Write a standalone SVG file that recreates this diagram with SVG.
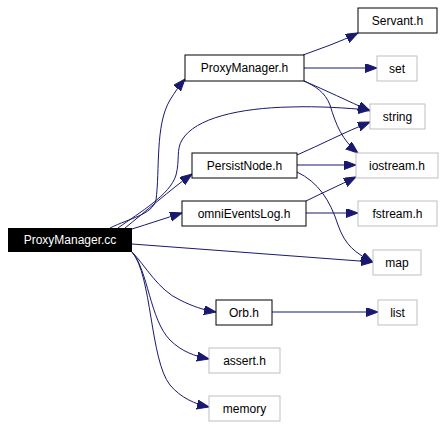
<svg xmlns="http://www.w3.org/2000/svg" width="447" height="427" viewBox="0 0 447 427">
<style>
text{font-family:"Liberation Sans",Arial,sans-serif;font-size:12px;text-anchor:middle;fill:#000}
.n rect{fill:#fff;stroke:#000;stroke-width:1}
.g rect{fill:#fff;stroke:#bfbfbf;stroke-width:1}
#edges path{fill:none;stroke:#191970;stroke-width:1;marker-end:url(#ah)}
</style>
<defs>
<marker id="ah" markerUnits="userSpaceOnUse" markerWidth="13" markerHeight="10" refX="12" refY="4.5" orient="auto">
<path d="M0,0 L12,4.5 L0,9 z" fill="#191970" stroke="#191970"/>
</marker>
</defs>
<rect width="447" height="427" fill="#fff"/>
<g id="edges">
<path d="M110,228 C130,218 152,215 156,200 C160,170 155,125 170,100 C175,92 179,86 185,79"/>
<path d="M118,228 C140,212 170,195 176,175 C180,160 176,150 182,140 C195,118 240,108 290,107 C320,106 345,108 370,110"/>
<path d="M125,228 C145,212 170,190 192,174"/>
<path d="M132,229 C148,224 166,218 182,213"/>
<path d="M132,244 L373,262"/>
<path d="M132,252 C145,265 158,290 180,300 C192,306 203,310 216,312"/>
<path d="M132,252 C148,270 150,320 170,340 C182,352 195,356 209,359"/>
<path d="M132,252 C152,275 150,360 170,385 C181,398 195,404 209,407"/>
<path d="M303,55 C322,48 340,42 358,33"/>
<path d="M304,68 L377,68"/>
<path d="M304,81 C325,90 348,101 370,111"/>
<path d="M304,81 C315,86 325,92 330,105 C336,125 342,140 358,153"/>
<path d="M297,155 C320,145 345,132 370,122"/>
<path d="M297,165 L356,165"/>
<path d="M297,172 C318,182 330,200 338,225 C345,245 355,253 373,262"/>
<path d="M306,201 C322,193 340,185 356,177"/>
<path d="M306,213 L358,213"/>
<path d="M272,312 L378,312"/>
</g>
<g id="ProxyManager_cc"><rect x="8" y="228" width="124" height="24" fill="#000"/><text x="70" y="244" style="fill:#fff">ProxyManager.cc</text></g>
<g id="ProxyManager_h" class="n"><rect x="185" y="55" width="119" height="26"/><text x="244.5" y="72">ProxyManager.h</text></g>
<g id="Servant_h" class="n"><rect x="358" y="8" width="79" height="25"/><text x="397.5" y="25">Servant.h</text></g>
<g id="set" class="g"><rect x="377" y="56" width="40" height="25"/><text x="397" y="73">set</text></g>
<g id="string" class="g"><rect x="370" y="104" width="55" height="25"/><text x="397.5" y="121">string</text></g>
<g id="PersistNode_h" class="n"><rect x="192" y="153" width="105" height="25"/><text x="244.5" y="170">PersistNode.h</text></g>
<g id="iostream_h" class="g"><rect x="356" y="153" width="82" height="25"/><text x="397" y="170">iostream.h</text></g>
<g id="omniEventsLog_h" class="n"><rect x="182" y="201" width="124" height="25"/><text x="244" y="218">omniEventsLog.h</text></g>
<g id="fstream_h" class="g"><rect x="358" y="201" width="79" height="25"/><text x="397.5" y="218">fstream.h</text></g>
<g id="map" class="g"><rect x="373" y="250" width="48" height="25"/><text x="397" y="267">map</text></g>
<g id="Orb_h" class="n"><rect x="216" y="300" width="56" height="25"/><text x="244" y="317">Orb.h</text></g>
<g id="list" class="g"><rect x="378" y="300" width="39" height="25"/><text x="397.5" y="317">list</text></g>
<g id="assert_h" class="g"><rect x="209" y="348" width="71" height="25"/><text x="244.5" y="365">assert.h</text></g>
<g id="memory" class="g"><rect x="209" y="396" width="71" height="25"/><text x="244.5" y="413">memory</text></g>
</svg>
